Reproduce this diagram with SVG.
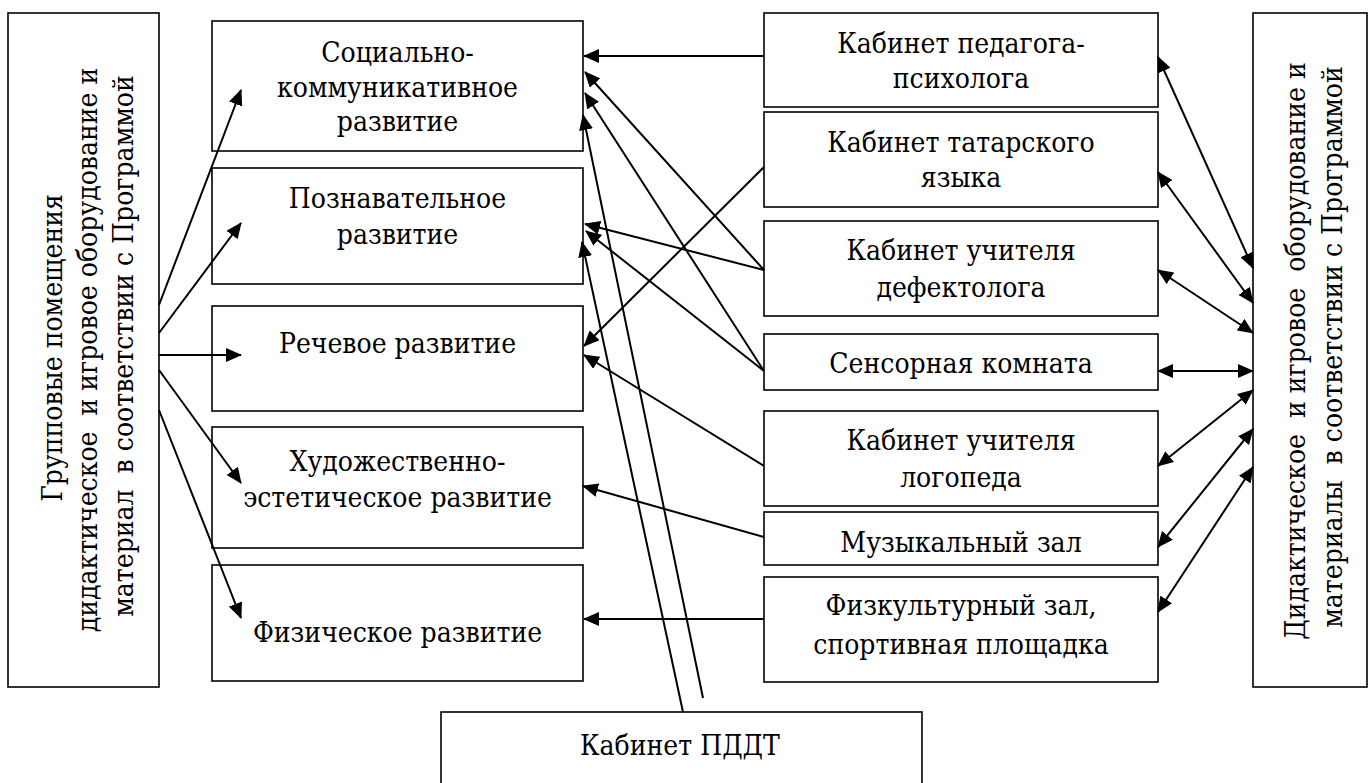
<svg xmlns="http://www.w3.org/2000/svg" width="1370" height="783" viewBox="0 0 1370 783">
<style>
.box{fill:#fff;stroke:#000;stroke-width:1.6}
.t{font-family:'DejaVu Serif','Liberation Serif',serif;font-stretch:condensed;font-size:28px;fill:#000;text-anchor:middle;white-space:pre}
.ln{stroke:#000;stroke-width:2;fill:none}
.a{marker-end:url(#ah)}
.d{marker-end:url(#ah);marker-start:url(#ah)}
</style>
<defs>
<marker id="ah" viewBox="0 0 16 14" refX="15" refY="7" markerWidth="16" markerHeight="14" markerUnits="userSpaceOnUse" orient="auto-start-reverse">
<path d="M0,0 L16,7 L0,14 z" fill="#000"/>
</marker>
</defs>
<rect width="1370" height="783" fill="#fff"/>

<g id="left-box">
<rect class="box" x="8" y="13" width="151" height="674"/>
<text class="t" transform="translate(62,348) rotate(-90)">Групповые помещения</text>
<text class="t" transform="translate(97,350) rotate(-90)">дидактическое  и игровое оборудование и</text>
<text class="t" transform="translate(133,346) rotate(-90)">материал  в соответствии с Программой</text>
</g>

<g id="social">
<rect class="box" x="212" y="21" width="371" height="130"/>
<text class="t" x="397.5" y="62">Социально-</text>
<text class="t" x="397.5" y="97">коммуникативное</text>
<text class="t" x="397.5" y="131">развитие</text>
</g>
<g id="cognitive">
<rect class="box" x="212" y="168" width="371" height="116"/>
<text class="t" x="397.5" y="208">Познавательное</text>
<text class="t" x="397.5" y="244">развитие</text>
</g>
<g id="speech">
<rect class="box" x="212" y="306" width="371" height="105"/>
<text class="t" x="397.5" y="353">Речевое развитие</text>
</g>
<g id="art">
<rect class="box" x="212" y="427" width="371" height="121"/>
<text class="t" x="397.5" y="471">Художественно-</text>
<text class="t" x="397.5" y="507">эстетическое развитие</text>
</g>
<g id="physical">
<rect class="box" x="212" y="565" width="371" height="116"/>
<text class="t" x="397.5" y="642">Физическое развитие</text>
</g>

<g id="psychologist">
<rect class="box" x="764" y="13" width="394" height="94"/>
<text class="t" x="961" y="53">Кабинет педагога-</text>
<text class="t" x="961" y="88">психолога</text>
</g>
<g id="tatar">
<rect class="box" x="764" y="112" width="394" height="95"/>
<text class="t" x="961" y="152">Кабинет татарского</text>
<text class="t" x="961" y="187">языка</text>
</g>
<g id="defectologist">
<rect class="box" x="764" y="221" width="394" height="95"/>
<text class="t" x="961" y="260">Кабинет учителя</text>
<text class="t" x="961" y="297">дефектолога</text>
</g>
<g id="sensory">
<rect class="box" x="764" y="334" width="394" height="56"/>
<text class="t" x="961" y="373">Сенсорная комната</text>
</g>
<g id="logoped">
<rect class="box" x="764" y="411" width="394" height="95"/>
<text class="t" x="961" y="450">Кабинет учителя</text>
<text class="t" x="961" y="487">логопеда</text>
</g>
<g id="music">
<rect class="box" x="764" y="512" width="394" height="53"/>
<text class="t" x="961" y="552">Музыкальный зал</text>
</g>
<g id="sport">
<rect class="box" x="764" y="577" width="394" height="105"/>
<text class="t" x="961" y="615">Физкультурный зал,</text>
<text class="t" x="961" y="654">спортивная площадка</text>
</g>

<g id="right-box">
<rect class="box" x="1253" y="13" width="114" height="674"/>
<text class="t" transform="translate(1305,351) rotate(-90)">Дидактическое  и игровое  оборудование и</text>
<text class="t" transform="translate(1342,347) rotate(-90)">материалы  в соответствии с Программой</text>
</g>

<g id="pddt">
<rect class="box" x="441" y="712" width="481" height="90"/>
<text class="t" x="680" y="755">Кабинет ПДДТ</text>
</g>

<g id="connectors" class="ln">
<line class="a" x1="159" y1="305" x2="241" y2="90"/>
<line class="a" x1="159" y1="333" x2="241" y2="223"/>
<line class="a" x1="159" y1="355" x2="241" y2="355"/>
<line class="a" x1="159" y1="370" x2="241" y2="483"/>
<line class="a" x1="159" y1="410" x2="241" y2="618"/>

<line class="a" x1="764" y1="56" x2="584" y2="56"/>
<line class="a" x1="764" y1="270" x2="585" y2="72"/>
<line class="a" x1="764" y1="371" x2="585" y2="93"/>
<line class="a" x1="703" y1="698" x2="583" y2="115"/>
<line class="a" x1="764" y1="270" x2="585" y2="224"/>
<line class="a" x1="764" y1="371" x2="586" y2="231"/>
<line class="a" x1="683" y1="712" x2="582" y2="242"/>
<line class="a" x1="764" y1="167" x2="584" y2="346"/>
<line class="a" x1="764" y1="466" x2="584" y2="355"/>
<line class="a" x1="764" y1="537" x2="583" y2="486"/>
<line class="a" x1="764" y1="619" x2="584" y2="619"/>

<line class="d" x1="1158" y1="57" x2="1253" y2="268"/>
<line class="d" x1="1158" y1="172" x2="1253" y2="303"/>
<line class="d" x1="1158" y1="270" x2="1253" y2="333"/>
<line class="d" x1="1158" y1="371" x2="1253" y2="371"/>
<line class="d" x1="1158" y1="466" x2="1253" y2="390"/>
<line class="d" x1="1158" y1="547" x2="1253" y2="429"/>
<line class="d" x1="1158" y1="612" x2="1253" y2="467"/>
</g>
</svg>
